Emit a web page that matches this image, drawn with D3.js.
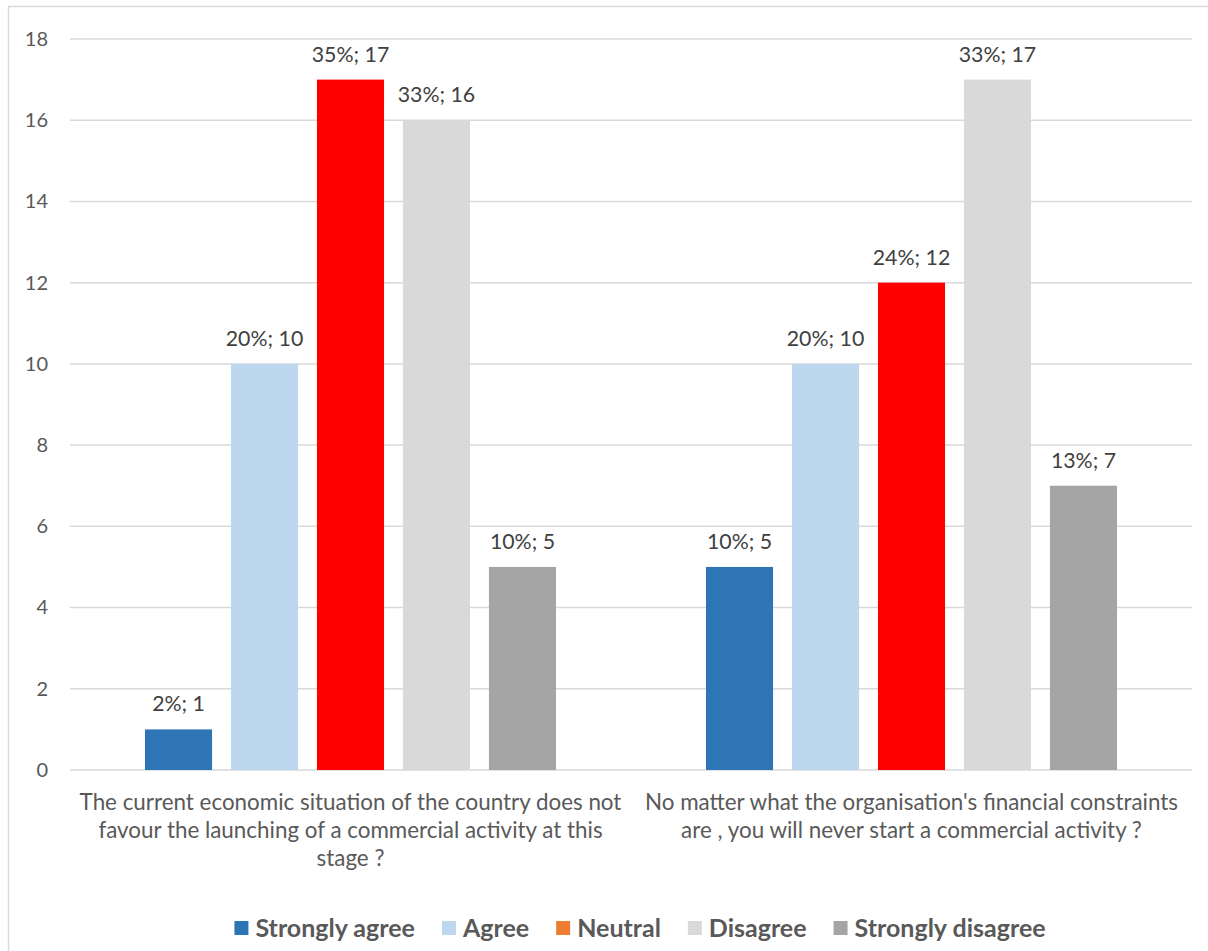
<!DOCTYPE html>
<html>
<head>
<meta charset="utf-8">
<script src="https://cdn.jsdelivr.net/npm/d3@7"></script>
<style>
  html, body { margin: 0; padding: 0; background: #ffffff; }
  svg { display: block; }
  text { font-family: Lato, "Open Sans", sans-serif; }
</style>
</head>
<body>
<svg id="chart" width="1208" height="951"></svg>
<script>
// Survey questions (x categories), answer options (series) and counts
const categories = [
  ["The current economic situation of the country does not", "favour the launching of a commercial activity at this", "stage ?"],
  ["No matter what the organisation's financial constraints", "are , you will never start a commercial activity ?"]
];
const seriesNames = ["Strongly agree", "Agree", "Neutral", "Disagree", "Strongly disagree"];
const counts = [
  [1, 10, 17, 16, 5],
  [5, 10, 12, 17, 7]
];
const percents = [
  ["2%", "20%", "35%", "33%", "10%"],
  ["10%", "20%", "24%", "33%", "13%"]
];
const yTicks = [0, 2, 4, 6, 8, 10, 12, 14, 16, 18];

const barColors = ["#2E75B6", "#BDD7EE", "#FF0000", "#D9D9D9", "#A5A5A5"];
const legendColors = ["#2E75B6", "#BDD7EE", "#ED7D31", "#D9D9D9", "#A5A5A5"];

const svg = d3.select("#chart");

// outer chart frame (top and left edges visible)
svg.append("rect")
  .attr("x", 8.5).attr("y", 6.5)
  .attr("width", 1260).attr("height", 1000)
  .attr("fill", "none").attr("stroke", "#D9D9D9").attr("stroke-width", 1.5);

const plot = { left: 70, right: 1192, top: 39, bottom: 770 };

const x0 = d3.scaleBand()
  .domain(d3.range(categories.length))
  .range([plot.left, plot.right]);

const x1 = d3.scaleBand()
  .domain(seriesNames)
  .range([75, x0.bandwidth() - 75])
  .paddingInner(0.22);

const y = d3.scaleLinear().domain([0, 18]).range([plot.bottom, plot.top]);

// gridlines
svg.append("g")
  .selectAll("line")
  .data(yTicks)
  .join("line")
  .attr("x1", plot.left).attr("x2", plot.right)
  .attr("y1", d => y(d)).attr("y2", d => y(d))
  .attr("stroke", "#D9D9D9").attr("stroke-width", 1.5);

// y axis labels
const yAxis = d3.axisLeft(y).tickValues(yTicks).tickSize(0).tickPadding(22);
const yg = svg.append("g").attr("transform", `translate(${plot.left},0)`).call(yAxis);
yg.select(".domain").remove();
yg.selectAll("text")
  .attr("font-family", "Lato, 'Open Sans', sans-serif")
  .attr("font-size", 20).attr("fill", "#595959");

// bars
const groups = svg.append("g")
  .selectAll("g")
  .data(counts)
  .join("g")
  .attr("transform", (d, i) => `translate(${x0(i)},0)`);

groups.selectAll("rect")
  .data(d => d.map((v, j) => ({ v, j })))
  .join("rect")
  .attr("x", d => x1(seriesNames[d.j]))
  .attr("width", x1.bandwidth())
  .attr("y", d => y(d.v))
  .attr("height", d => y(0) - y(d.v))
  .attr("fill", d => barColors[d.j]);

// data labels "percent; count"
groups.each(function (row, i) {
  d3.select(this).selectAll("text.lbl")
    .data(row.map((v, j) => ({ v, j })))
    .join("text")
    .attr("class", "lbl")
    .attr("x", d => x1(seriesNames[d.j]) + x1.bandwidth() / 2)
    .attr("y", d => y(d.v) - 18)
    .attr("text-anchor", "middle")
    .attr("font-size", 21.3)
    .attr("fill", "#404040")
    .text(d => `${percents[i][d.j]}; ${d.v}`);
});

// category labels
svg.append("g")
  .selectAll("text")
  .data(categories)
  .join("text")
  .attr("text-anchor", "middle")
  .attr("font-size", 22.4)
  .attr("fill", "#595959")
  .each(function (lines, i) {
    const t = d3.select(this);
    lines.forEach((ln, k) => {
      t.append("tspan")
        .attr("x", x0(i) + x0.bandwidth() / 2)
        .attr("y", 810 + k * 28)
        .text(ln);
    });
  });

// legend, laid out left to right from measured label widths
const legend = svg.append("g").attr("transform", "translate(0,928)");
const items = legend.selectAll("g")
  .data(seriesNames)
  .join("g");
items.append("rect")
  .attr("x", 0).attr("y", -7).attr("width", 14).attr("height", 14)
  .attr("fill", (d, i) => legendColors[i]);
items.append("text")
  .attr("x", 21).attr("y", 8.5)
  .attr("font-size", 25).attr("font-weight", "bold")
  .attr("fill", "#595959")
  .text(d => d);
const gap = 27;
let cursor = 0;
const offsets = [];
items.each(function () {
  offsets.push(cursor);
  const w = d3.select(this).select("text").node().getComputedTextLength();
  cursor += 21 + w + gap;
});
const total = cursor - gap;
const start = 640 - total / 2;
items.attr("transform", (d, i) => `translate(${start + offsets[i]},0)`);
</script>
</body>
</html>
